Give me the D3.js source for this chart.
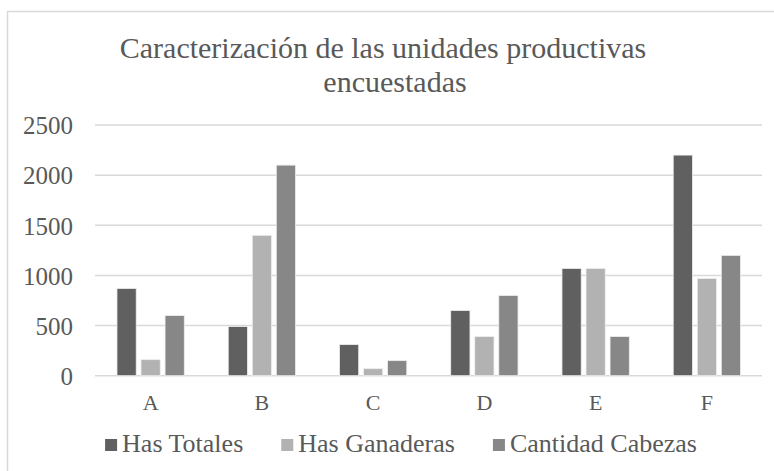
<!DOCTYPE html>
<html>
<head>
<meta charset="utf-8">
<script src="https://cdn.jsdelivr.net/npm/d3@7"></script>
<style>
  body { margin: 0; background: #fff; }
</style>
</head>
<body>
<div id="chart"></div>
<script>
var categories = ["A", "B", "C", "D", "E", "F"];
var seriesNames = ["Has Totales", "Has Ganaderas", "Cantidad Cabezas"];
var hasTotales = [870, 490, 310, 650, 1070, 2200];
var hasGanaderas = [160, 1400, 70, 390, 1070, 970];
var cantidadCabezas = [600, 2100, 150, 800, 390, 1200];
var yTicks = [0, 500, 1000, 1500, 2000, 2500];
var colors = ["#606060", "#b2b2b2", "#878787"];

var FONT = "'Liberation Serif', 'Times New Roman', 'DejaVu Serif', serif";
var TXT = "#595959";
var width = 774, height = 471;
var margin = {top: 125, right: 12, bottom: 95, left: 95};

var data = categories.map(function(c, i) {
    return {cat: c, values: [hasTotales[i], hasGanaderas[i], cantidadCabezas[i]]};
});

var svg = d3.select("#chart").append("svg")
    .attr("width", width)
    .attr("height", height)
    .style("font-family", FONT);

// chart border
svg.append("rect")
    .attr("x", 7.5)
    .attr("y", 11.5)
    .attr("width", width + 20)
    .attr("height", height + 20)
    .attr("fill", "none")
    .attr("stroke", "#d9d9d9")
    .attr("stroke-width", 1.5);

var x0 = d3.scaleBand()
    .domain(categories)
    .range([margin.left, width - margin.right + 0.5])
    .paddingInner(0.395)
    .paddingOuter(0.395 / 2);

var x1 = d3.scaleBand()
    .domain(d3.range(seriesNames.length))
    .range([0, x0.bandwidth()])
    .paddingInner(0.2);

var y = d3.scaleLinear()
    .domain([0, 2500])
    .range([height - margin.bottom - 0.3, margin.top]);

var color = d3.scaleOrdinal().domain(d3.range(3)).range(colors);

// gridlines
svg.append("g")
    .selectAll("line")
    .data(yTicks)
    .enter().append("line")
    .attr("x1", margin.left)
    .attr("x2", width - margin.right)
    .attr("y1", function(d) { return y(d); })
    .attr("y2", function(d) { return y(d); })
    .attr("stroke", "#d9d9d9")
    .attr("stroke-width", 1.5);

// y labels
var yAxis = d3.axisLeft(y).tickValues(yTicks).tickFormat(d3.format("d")).tickSize(0).tickPadding(0);
var gy = svg.append("g")
    .attr("transform", "translate(73,0)")
    .call(yAxis)
    .attr("font-family", null)
    .attr("font-size", null);
gy.select(".domain").remove();
gy.selectAll("text")
    .style("font-family", FONT)
    .style("font-size", "25px")
    .attr("fill", TXT)
    .attr("dy", "0.35em");

// bars
var groups = svg.append("g")
    .selectAll("g")
    .data(data)
    .enter().append("g")
    .attr("transform", function(d) { return "translate(" + x0(d.cat) + ",0)"; });

groups.selectAll("rect")
    .data(function(d) { return d.values.map(function(v, i) { return {i: i, v: v}; }); })
    .enter().append("rect")
    .attr("x", function(d) { return x1(d.i); })
    .attr("y", function(d) { return y(d.v); })
    .attr("width", x1.bandwidth())
    .attr("height", function(d) { return y(0) - y(d.v); })
    .attr("fill", function(d) { return color(d.i); })
    .attr("stroke", "#eeeeee")
    .attr("stroke-width", 0.8);

// x labels
var xAxis = d3.axisBottom(x0).tickSize(0).tickPadding(0);
var gx = svg.append("g")
    .attr("transform", "translate(0," + 410 + ")")
    .call(xAxis)
    .attr("font-family", null)
    .attr("font-size", null);
gx.select(".domain").remove();
gx.selectAll("text")
    .style("font-family", FONT)
    .style("font-size", "22px")
    .attr("fill", TXT)
    .attr("dy", 0);

// title
var title = svg.append("text")
    .attr("text-anchor", "middle")
    .style("font-family", FONT)
    .style("font-size", "30px")
    .attr("fill", TXT);
title.append("tspan").attr("x", 383).attr("y", 58).text("Caracterización de las unidades productivas");
title.append("tspan").attr("x", 395).attr("y", 92).text("encuestadas");

// legend
var legend = svg.append("g");
var lx = 0;
seriesNames.forEach(function(name, i) {
    var g = legend.append("g").attr("transform", "translate(" + lx + ",0)");
    g.append("rect")
        .attr("x", 0)
        .attr("y", -13)
        .attr("width", 12)
        .attr("height", 12)
        .attr("fill", colors[i]);
    var t = g.append("text")
        .attr("x", 17)
        .attr("y", 0)
        .style("font-family", FONT)
        .style("font-size", "26px")
        .attr("fill", TXT)
        .text(name);
    lx += 17 + t.node().getComputedTextLength() + 38;
});
var lw = lx - 38;
legend.attr("transform", "translate(" + (401 - lw / 2) + ",452)");
</script>
</body>
</html>
